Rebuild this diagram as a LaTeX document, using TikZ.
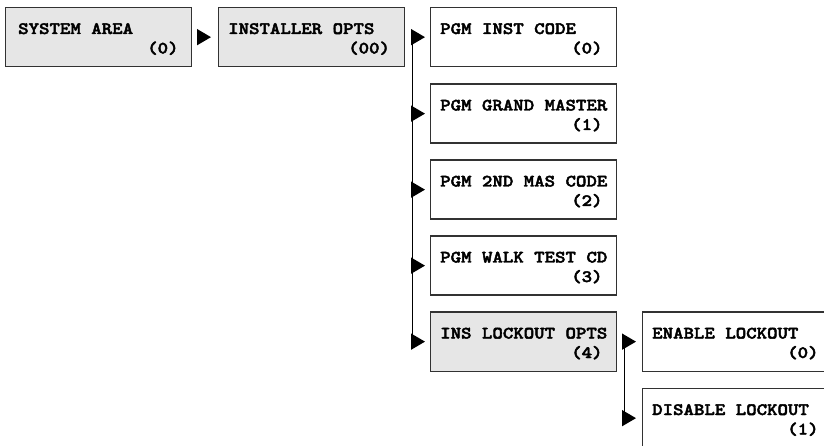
\documentclass[tikz,border=0pt]{standalone}
\usepackage{fontspec}
\usetikzlibrary{arrows.meta}
\newfontfamily\boxfontface{lmmonolt10-bold}[Extension=.otf, FakeStretch=1.15, FakeBold=2.5]
\newcommand\boxfont{\boxfontface\fontsize{17.3bp}{20bp}\selectfont}
\definecolor{boxgray}{RGB}{230,230,230}
\definecolor{edgecol}{RGB}{50,50,50}
\tikzset{
  menubox/.style={draw=edgecol, line width=1.3bp, anchor=north west, inner sep=0pt,
    minimum width=186bp, minimum height=59bp},
  grayfill/.style={fill=boxgray},
  whitefill/.style={fill=white},
  lbl/.style={font=\boxfont, inner sep=0pt, text=black},
  arr/.style={line width=1.5bp, draw=black, -{Triangle[length=14bp,width=16bp]}},
  trunkline/.style={line width=1.5bp, draw=black},
}
% #1 name, #2 left, #3 top, #4 fill style, #5 line 1, #6 line-1 offset, #7 line 2, #8 line-2 offset
\newcommand\menuentry[8]{%
  \node[menubox,#4] (#1) at (#2,#3) {};
  \node[lbl,anchor=base west] (#1-a) at ([xshift=#6bp,yshift=-27bp]#1.north west) {#5};
  \node[lbl,anchor=base west] (#1-b) at ([xshift=#8bp,yshift=-46.5bp]#1.north west) {#7};
}
\begin{document}
\begin{tikzpicture}[x=1bp,y=-1bp]
\useasboundingbox (0,0) rectangle (824,446);
\clip (0,0) rectangle (824,446);
\fill[white] (0,0) rectangle (824,446);

\menuentry{sys}{5}{7}{grayfill}{SYSTEM AREA}{13}{(0)}{142}
\menuentry{inst}{218}{7}{grayfill}{INSTALLER OPTS}{10}{(00)}{130}
\menuentry{b0}{430}{7}{whitefill}{PGM INST CODE}{10}{(0)}{141}
\menuentry{b1}{430}{83.5}{whitefill}{PGM GRAND MASTER}{10}{(1)}{141}
\menuentry{b2}{430}{159.5}{whitefill}{PGM 2ND MAS CODE}{10}{(2)}{141}
\menuentry{b3}{430}{235.5}{whitefill}{PGM WALK TEST CD}{10}{(3)}{141}
\menuentry{b4}{430}{311.5}{grayfill}{INS LOCKOUT OPTS}{10}{(4)}{141}
\menuentry{en}{642}{311.5}{whitefill}{ENABLE LOCKOUT}{10}{(0)}{145}
\menuentry{dis}{642}{388}{whitefill}{DISABLE LOCKOUT}{10}{(1)}{145}

% system area -> installer opts
\draw[arr, shorten <=6bp, shorten >=7bp] (sys.east) -- (inst.west);

% installer opts trunk
\coordinate (trunkA) at ([xshift=7bp]inst.east);
\draw[trunkline] (trunkA) -- (trunkA |- b4.west);
\foreach \b in {b0,b1,b2,b3,b4}{
  \draw[arr, shorten >=5bp] (trunkA |- \b.west) -- (\b.west);
}

% lockout trunk
\coordinate (trunkB) at ([xshift=7bp]b4.east);
\draw[trunkline] (trunkB) -- (trunkB |- dis.west);
\foreach \b in {en,dis}{
  \draw[arr, shorten >=6bp] (trunkB |- \b.west) -- (\b.west);
}
\end{tikzpicture}
\end{document}
